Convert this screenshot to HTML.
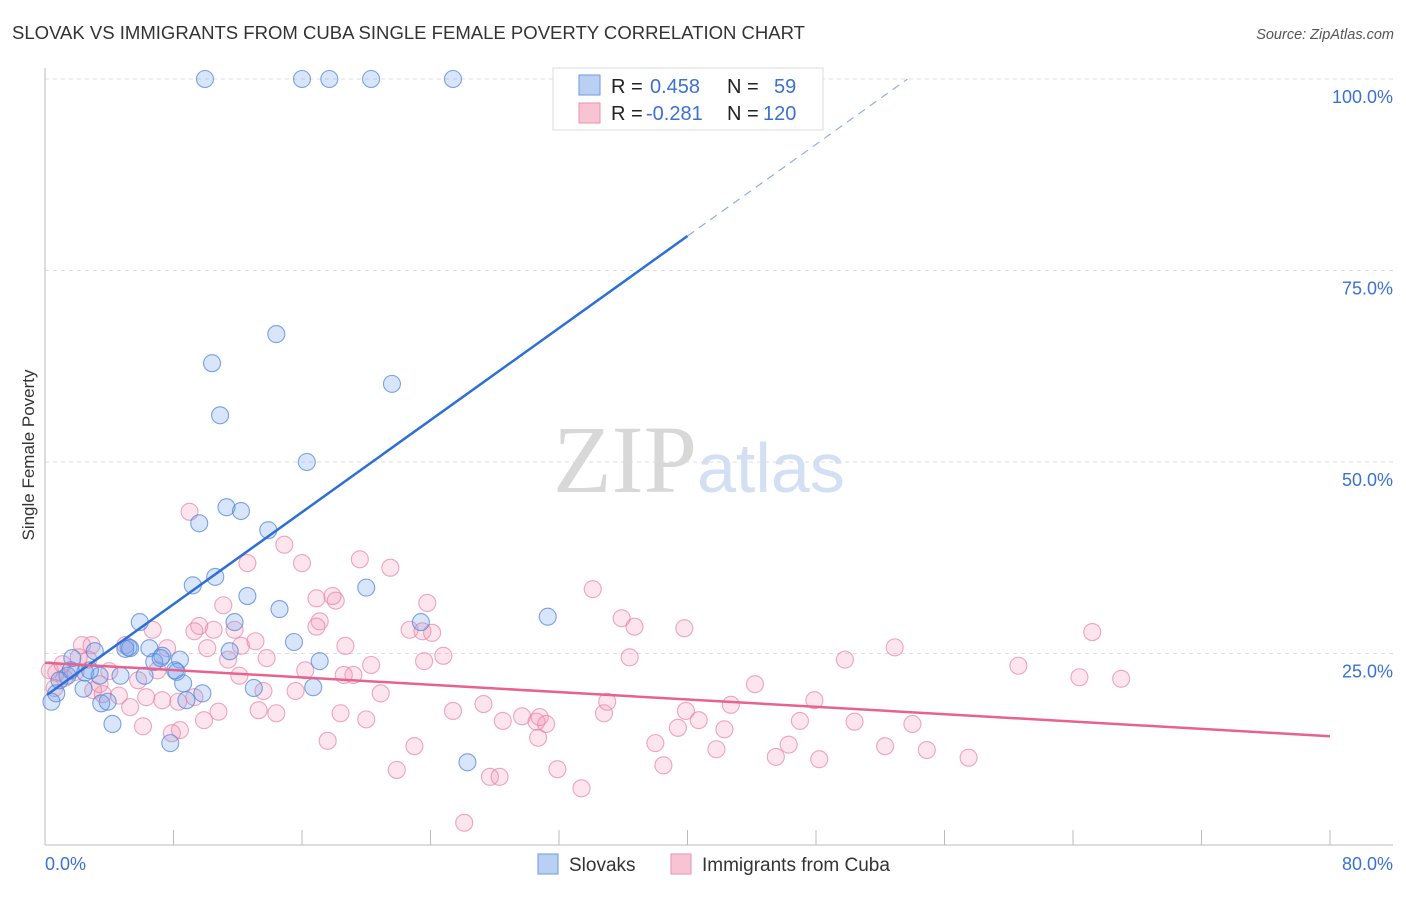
<!DOCTYPE html>
<html><head><meta charset="utf-8"><style>
body{margin:0;background:#fff;font-family:"Liberation Sans",sans-serif;}
</style></head><body>
<svg width="1406" height="892" xmlns="http://www.w3.org/2000/svg" font-family="Liberation Sans, sans-serif">
<text x="12" y="39" font-size="18" fill="#333" textLength="793" lengthAdjust="spacingAndGlyphs">SLOVAK VS IMMIGRANTS FROM CUBA SINGLE FEMALE POVERTY CORRELATION CHART</text>
<text x="1394" y="39" font-size="14.5" fill="#555" font-style="italic" text-anchor="end">Source: ZipAtlas.com</text>
<text x="553" y="492" font-size="96" font-family="Liberation Serif, serif" fill="#d8d8d8">ZIP<tspan fill="#d3e0f4" font-family="Liberation Sans, sans-serif" font-size="70">atlas</tspan></text>
<g id="grid"></g>
<g id="axes"></g>
<g id="pts"></g>
<g id="trend"></g>
<text transform="translate(34,455) rotate(-90)" font-size="17" fill="#333" text-anchor="middle">Single Female Poverty</text>
<g>
<rect x="553" y="68" width="270" height="62" fill="#fff" stroke="#ddd"/>
<rect x="579" y="75" width="21" height="20" fill="#b9d0f3" stroke="#6b9ae0"/>
<rect x="579" y="103" width="21" height="20" fill="#f8c4d3" stroke="#eb92ae"/>
<text x="611" y="93" font-size="20" fill="#222">R = <tspan fill="#3b72d0" x="650">0.458</tspan></text>
<text x="727" y="93" font-size="20" fill="#222">N = <tspan fill="#3b72d0" x="774">59</tspan></text>
<text x="611" y="120" font-size="20" fill="#222">R = <tspan fill="#3b72d0" x="646">-0.281</tspan></text>
<text x="727" y="120" font-size="20" fill="#222">N = <tspan fill="#3b72d0" x="763">120</tspan></text>
</g>
<g>
<rect x="538" y="854" width="20" height="20" fill="#b9d0f3" stroke="#6b9ae0"/>
<text x="569" y="871" font-size="19" fill="#333">Slovaks</text>
<rect x="671" y="854" width="20" height="20" fill="#f8c4d3" stroke="#eb92ae"/>
<text x="702" y="871" font-size="19" fill="#333">Immigrants from Cuba</text>
</g>
</svg>
<script>
const xTicks=[0,8,16,24,32,40,48,56,64,72,80];
const yTicks=[25,50,75,100];
const yTickLabels=["25.0%","50.0%","75.0%","100.0%"];
const xEndLabels=["0.0%","80.0%"];
const slovakX=[9.96,16.0,17.7,20.3,25.4,14.4,10.4,10.9,21.6,16.3,9.6,11.3,12.2,13.9,9.2,10.6,12.6,14.6,5.9,11.8,15.5,11.5,5.2,6.5,7.3,8.4,6.8,17.1,1.7,3.1,2.5,4.7,3.4,6.2,8.2,8.6,9.8,8.8,13.0,16.7,2.4,3.5,3.9,4.2,7.8,0.7,0.4,1.4,23.4,31.3,20.0,26.3,1.6,7.2,5.0,2.8,0.9,5.3,8.1];
const slovakY=[100,100,100,100,100,66.7,62.9,56.1,60.2,50.0,42.0,44.1,43.6,41.1,33.9,35.0,32.5,30.8,29.1,29.1,26.5,25.3,25.8,25.7,24.7,24.2,23.9,24.0,24.4,25.3,22.5,22.1,22.1,22.1,22.6,21.1,19.8,18.9,20.5,20.6,20.4,18.5,18.7,15.8,13.3,19.8,18.7,22.1,29.1,29.8,33.6,10.8,22.8,24.4,25.6,22.8,21.5,25.7,22.8];
const cubaX=[9.0,14.9,16.0,12.6,19.6,21.5,11.1,18.1,16.9,17.9,23.8,34.1,35.9,36.7,39.8,65.2,52.9,49.8,60.6,64.4,67.0,44.2,36.4,22.7,23.5,24.1,24.8,23.6,17.1,16.9,18.7,20.3,19.2,18.6,20.9,16.2,15.6,13.8,13.6,12.1,12.2,13.1,11.8,10.5,11.4,9.6,10.1,7.6,9.3,6.7,5.0,2.9,2.3,2.1,4.0,3.0,3.6,4.6,5.8,6.3,7.0,7.3,8.3,9.3,10.8,9.9,8.4,7.9,6.1,5.3,13.3,14.4,17.6,18.4,20.0,21.9,23.0,25.4,27.3,28.5,29.7,30.6,30.8,31.2,30.7,31.9,33.4,27.7,28.3,26.1,34.8,35.0,38.0,38.5,39.4,39.9,40.7,41.8,42.3,42.7,45.5,46.3,47.0,47.9,48.2,50.4,52.3,54.0,54.9,57.5,0.7,0.3,1.2,1.9,0.6,2.7,1.1,3.4];
const cubaY=[43.5,39.2,36.8,36.8,37.3,36.2,31.3,31.9,32.2,32.5,31.6,33.4,29.6,28.5,28.3,27.8,25.8,24.2,23.4,21.9,21.7,21.0,24.5,28.1,27.9,27.7,24.7,24.0,29.2,28.5,26.0,23.5,22.2,22.2,19.8,22.8,20.1,24.4,20.1,22.1,26.0,26.6,28.1,28.1,24.2,28.6,25.7,25.7,27.9,28.1,26.1,26.1,26.1,24.5,22.7,20.2,19.7,19.5,21.5,19.3,22.8,18.9,18.7,19.3,17.4,16.3,15.0,14.6,15.5,18.0,17.6,17.2,13.6,17.2,16.4,9.8,12.9,17.5,18.4,16.2,16.8,16.1,16.7,15.8,14.0,9.9,7.4,8.9,8.9,2.9,17.2,18.7,13.3,10.4,15.3,17.5,16.3,12.5,15.1,18.3,11.5,13.1,16.2,18.9,11.2,16.1,12.9,15.8,12.4,11.4,22.5,22.8,21.8,22.6,20.5,24.2,23.6,21.0];
const slovakTrend=[[0.12,19.6],[40.0,79.5],[53.7,100]];
const cubaTrend=[[0,23.8],[80,14.2]];

const NS="http://www.w3.org/2000/svg";
const X0=45,X1=1330,Y0=845,Y1=79;
const xs=v=>X0+v/80*(X1-X0);
const ys=v=>Y0-v/100*(Y0-Y1);
function mk(tag,attrs,parent){const e=document.createElementNS(NS,tag);for(const k in attrs)e.setAttribute(k,attrs[k]);parent.appendChild(e);return e;}
const grid=document.getElementById('grid'),axes=document.getElementById('axes'),pts=document.getElementById('pts'),trend=document.getElementById('trend');
yTicks.forEach((t,i)=>{
 const l=mk('line',{x1:X0,x2:1393,y1:ys(t),y2:ys(t),stroke:'#ddd','stroke-dasharray':'4,4'},grid);
 
 
 const tx=mk('text',{x:1393,y:ys(t)+24,'font-size':18,fill:'#3b72d0','text-anchor':'end'},axes);
 tx.textContent=yTickLabels[i];
 
 
});
const ax=mk('line',{x1:X0,x2:1393,y1:Y0,y2:Y0,stroke:'#bbb'},axes);


const ay=mk('line',{x1:X0,x2:X0,y1:68,y2:Y0,stroke:'#bbb'},axes);


xTicks.forEach(t=>{
 const l=mk('line',{x1:xs(t),x2:xs(t),y1:Y0-15,y2:Y0,stroke:'#bbb'},axes);
 
 
});
[[0,'start'],[80,'end']].forEach((p,i)=>{
 const tx=mk('text',{x:i?1393:45,y:870,'font-size':18,fill:'#3b72d0','text-anchor':p[1]},axes);
 tx.textContent=xEndLabels[i];
 
 
});
cubaX.forEach((v,i)=>{
 const c=mk('circle',{cx:xs(v),cy:ys(cubaY[i]),r:8.5,fill:'rgba(242,150,180,0.25)',stroke:'rgba(232,130,165,0.7)','stroke-width':1.1},pts);
 
 
});
slovakX.forEach((v,i)=>{
 const c=mk('circle',{cx:xs(v),cy:ys(slovakY[i]),r:8.5,fill:'rgba(110,160,235,0.27)',stroke:'rgba(80,135,220,0.75)','stroke-width':1.1},pts);
 
 
});
const bl=mk('line',{x1:xs(slovakTrend[0][0]),y1:ys(slovakTrend[0][1]),x2:xs(slovakTrend[1][0]),y2:ys(slovakTrend[1][1]),stroke:'#2c6fd6','stroke-width':2.5},trend);


const bd=mk('line',{x1:xs(slovakTrend[1][0]),y1:ys(slovakTrend[1][1]),x2:xs(slovakTrend[2][0]),y2:ys(slovakTrend[2][1]),stroke:'#8fb0e0','stroke-width':1.2,'stroke-dasharray':'8,6'},trend);


const pl=mk('line',{x1:xs(cubaTrend[0][0]),y1:ys(cubaTrend[0][1]),x2:xs(cubaTrend[1][0]),y2:ys(cubaTrend[1][1]),stroke:'#e8628f','stroke-width':2.5},trend);


</script>
</body></html>
